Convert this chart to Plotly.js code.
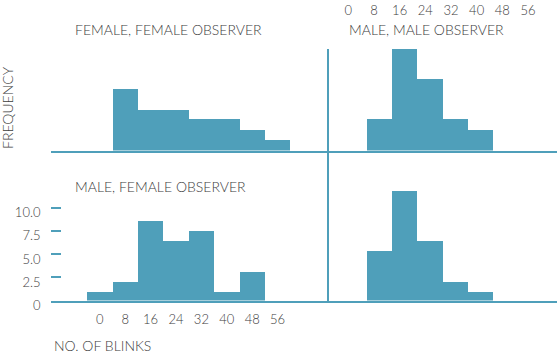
<!DOCTYPE html>
<html>
<head>
<meta charset="utf-8">
<script src="https://cdn.plot.ly/plotly-3.0.1.min.js"></script>
<style>html,body{margin:0;padding:0;background:#fff;}#chart{width:557px;height:353px;}</style>
</head>
<body>
<div id="chart"></div>
<script>
// Bin centres (no. of blinks) and tick labels
var binLabels = [0, 8, 16, 24, 32, 40, 48, 56];
var binText = ["0", "8", "16", "24", "32", "40", "48", "56"];
var freqTicks = [0, 2.5, 5, 7.5, 10];
var freqText = ["0", "2.5", "5.0", "7.5", "10.0"];

// Female, female observer
var ffBins = [8, 16, 24, 32, 40, 48, 56];
var ffFreq = [6.6, 4.4, 4.4, 3.35, 3.35, 2.2, 1.1];
// Male, male observer
var mmBins = [8, 16, 24, 32, 40];
var mmFreq = [3.35, 10.9, 7.7, 3.35, 2.2];
// Male, female observer
var mfBins = [0, 8, 16, 24, 32, 40, 48];
var mfFreq = [0.9, 2.0, 8.55, 6.4, 7.45, 0.9, 3.05];
// Fourth panel (bottom right)
var m2Bins = [8, 16, 24, 32, 40];
var m2Freq = [5.3, 11.8, 6.4, 2.0, 0.9];

var TEAL = "#4f9fba";
var TXT = "#3d3d3d";
var FONT = "Lato, 'Open Sans', sans-serif";
var W = 557, H = 353;
function px(x) { return x / W; }
function py(y) { return 1 - y / H; }

function barTrace(x, y, xa, ya) {
  return {type: "bar", x: x, y: y, width: 8, xaxis: xa, yaxis: ya,
          marker: {color: TEAL, line: {width: 0}}, hoverinfo: "none"};
}

var data = [
  barTrace(mfBins, mfFreq, "x", "y"),
  barTrace(ffBins, ffFreq, "x2", "y2"),
  barTrace(mmBins, mmFreq, "x3", "y3"),
  barTrace(m2Bins, m2Freq, "x4", "y4"),
  {type: "scatter", x: [], y: [], xaxis: "x5", yaxis: "y3", hoverinfo: "none"}
];

var leftDom = [px(50.5), px(327.7)];
var rightDom = [px(328.7), 1];
var topDom = [py(150.5), py(49)];
var botDom = [py(300.5), py(150.5)];
var leftRange = [-15.53, 71.78];
var rightRange = [-8.0, 64.1];
var topRange = [0, 10.914];
var botRange = [0, 16.13];

var tickFont = {family: FONT, size: 13, color: TXT, weight: 300};
var base = {showgrid: false, zeroline: false, fixedrange: true};

function ax(extra) { return Object.assign({}, base, extra); }

var annFont = {family: FONT, size: 14, color: TXT, weight: 300};

var layout = {
  width: W, height: H,
  margin: {l: 0, r: 0, t: 0, b: 0, pad: 0},
  paper_bgcolor: "#ffffff",
  plot_bgcolor: "rgba(0,0,0,0)",
  showlegend: false,
  bargap: 0,
  font: {family: FONT, color: TXT},
  xaxis: ax({domain: leftDom, anchor: "y", range: leftRange, showline: true, linecolor: TEAL, linewidth: 2,
             tickmode: "array", tickvals: binLabels, ticktext: binText, ticks: "", tickfont: tickFont,
             ticklabelstandoff: 6}),
  yaxis: ax({domain: botDom, anchor: "x", range: botRange, showline: false,
             tickmode: "array", tickvals: freqTicks, ticktext: freqText,
             ticks: "inside", ticklen: 10, tickwidth: 2, tickcolor: TEAL, tickfont: tickFont,
             ticklabelshift: 5, ticklabelstandoff: 9}),
  xaxis2: ax({domain: leftDom, anchor: "y2", range: leftRange, showline: true, linecolor: TEAL, linewidth: 2,
              showticklabels: false, ticks: ""}),
  yaxis2: ax({domain: topDom, anchor: "x2", range: topRange, showline: false, showticklabels: false, ticks: ""}),
  xaxis3: ax({domain: rightDom, anchor: "y3", range: rightRange, showline: true, linecolor: TEAL, linewidth: 2,
              showticklabels: false, ticks: ""}),
  yaxis3: ax({domain: topDom, anchor: "x3", range: topRange, showline: true, linecolor: TEAL, linewidth: 2,
              showticklabels: false, ticks: ""}),
  xaxis4: ax({domain: rightDom, anchor: "y4", range: rightRange, showline: true, linecolor: TEAL, linewidth: 2,
              showticklabels: false, ticks: ""}),
  yaxis4: ax({domain: botDom, anchor: "x4", range: botRange, showline: true, linecolor: TEAL, linewidth: 2,
              showticklabels: false, ticks: ""}),
  xaxis5: ax({overlaying: "x3", side: "top", anchor: "free", position: py(18), range: [-6.11, 65.04],
              showline: false, tickmode: "array", tickvals: binLabels, ticktext: binText, ticks: "",
              tickfont: tickFont}),
  annotations: [
    {text: "FEMALE, FEMALE OBSERVER", x: px(72.5), y: py(30), xref: "paper", yref: "paper",
     xanchor: "left", yanchor: "middle", showarrow: false, font: annFont},
    {text: "MALE, MALE OBSERVER", x: px(347), y: py(30), xref: "paper", yref: "paper",
     xanchor: "left", yanchor: "middle", showarrow: false, font: annFont},
    {text: "MALE, FEMALE OBSERVER", x: px(73), y: py(186), xref: "paper", yref: "paper",
     xanchor: "left", yanchor: "middle", showarrow: false, font: annFont},
    {text: "NO. OF BLINKS", x: px(51.5), y: py(345), xref: "paper", yref: "paper",
     xanchor: "left", yanchor: "middle", showarrow: false, font: annFont},
    {text: "FREQUENCY", x: px(7.5), y: py(107.5), xref: "paper", yref: "paper", textangle: -90,
     xanchor: "center", yanchor: "middle", showarrow: false, font: annFont}
  ]
};

Plotly.newPlot("chart", data, layout, {staticPlot: true, displayModeBar: false});
</script>
</body>
</html>
